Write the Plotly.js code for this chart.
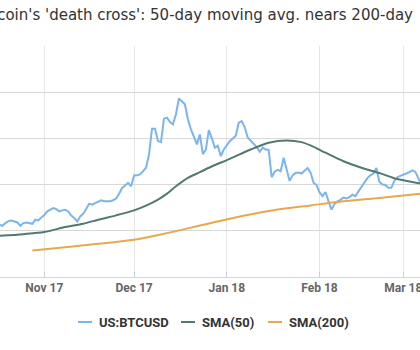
<!DOCTYPE html>
<html>
<head>
<meta charset="utf-8">
<script src="https://cdn.plot.ly/plotly-3.0.1.min.js"></script>
<style>
html,body{margin:0;padding:0;background:#fff;overflow:hidden;}
#chart{width:420px;height:350px;}
</style>
</head>
<body>
<div id="chart"></div>
<script>
// ---- data ----
var btcStart = '2017-10-17';
var btcValues = [
  // Oct 17 - Oct 31
  5650,5540,5830,6050,6120,6010,5900,5540,5830,5900,5820,5760,6200,6120,6450,
  // Nov
  6700,7100,7250,7460,7350,7100,7210,7280,7100,6650,6400,6010,6550,6850,7350,
  7940,7830,8010,8150,8300,8200,8190,8190,8300,8500,9020,9640,9900,10190,9820,
  // Dec
  10980,11000,11100,11450,11820,13260,16050,16050,14710,14600,17140,17250,16780,16520,17610,
  19320,19060,18700,17070,15980,15200,14350,15430,13300,13800,15900,15000,14000,14200,13080,13800,
  // Jan
  14300,14700,15000,15300,16700,16880,16200,15100,14750,14400,14050,13550,14000,13800,13750,
  10800,11400,11600,11450,12900,11600,10400,11000,11250,11300,11200,11500,11800,11300,10200,9950,
  // Feb
  9150,8750,9200,8190,7300,7900,8200,8350,8600,8500,8650,8900,8750,9270,
  9750,10100,10700,11000,11200,11800,10300,10000,9950,9650,9650,10400,10800,10950,
  // Mar 1 - Mar 7
  11050,11200,11350,11550,11400,10600,10000
];

var sma50Dates = ['2017-10-17','2017-10-25','2017-11-01','2017-11-08','2017-11-14','2017-11-19',
  '2017-11-25','2017-12-01','2017-12-05','2017-12-09','2017-12-12','2017-12-15','2017-12-19',
  '2017-12-23','2017-12-26','2018-01-02','2018-01-09','2018-01-15','2018-01-21','2018-01-26',
  '2018-01-29','2018-02-03','2018-02-09','2018-02-15','2018-02-21','2018-02-27','2018-03-07'];
var sma50Values = [4460,4640,4860,5400,5760,6200,6670,7210,7720,8370,9020,9820,10730,
  11340,11820,12790,13800,14530,14780,14600,14240,13450,12530,11820,11250,10600,10100];

var sma200Dates = ['2017-10-28','2017-11-08','2017-11-19','2017-12-01','2017-12-12',
  '2017-12-26','2018-01-07','2018-01-18','2018-01-29','2018-02-09','2018-02-21','2018-03-07'];
var sma200Values = [2860,3230,3590,4020,4750,5800,6650,7300,7750,8190,8550,9020];

var tickDates = ['2017-11-01','2017-12-01','2018-01-01','2018-02-01','2018-03-01'];
var seriesNames = ['US:BTCUSD','SMA(50)','SMA(200)'];
var seriesColors = ['#7cb5ec','#52796f','#e6a94e'];
var titleText = "Bitcoin's 'death cross': 50-day moving avg. nears 200-day";

// build consecutive daily dates for the BTC series
var btcDates = [];
(function(){
  var d = new Date(btcStart + 'T00:00:00Z');
  for (var i = 0; i < btcValues.length; i++) {
    btcDates.push(d.toISOString().slice(0,10));
    d.setUTCDate(d.getUTCDate() + 1);
  }
})();

var traces = [
  {x: btcDates, y: btcValues, name: seriesNames[0], type: 'scatter', mode: 'lines',
   line: {color: seriesColors[0], width: 2}, showlegend: false, hoverinfo: 'skip'},
  {x: sma50Dates, y: sma50Values, name: seriesNames[1], type: 'scatter', mode: 'lines',
   line: {color: seriesColors[1], width: 2, shape: 'spline', smoothing: 0.8}, showlegend: false, hoverinfo: 'skip'},
  {x: sma200Dates, y: sma200Values, name: seriesNames[2], type: 'scatter', mode: 'lines',
   line: {color: seriesColors[2], width: 2, shape: 'spline', smoothing: 0.8}, showlegend: false, hoverinfo: 'skip'}
];

// custom legend (short line symbols like the reference)
var W = 420, plotTop = 46, plotBottom = 277;
var legendY = (plotBottom - 322) / (plotBottom - plotTop);
var legendSym = [78, 181, 268];
var shapes = [], annotations = [];
for (var k = 0; k < 3; k++) {
  shapes.push({type: 'line', xref: 'paper', yref: 'paper',
    x0: legendSym[k] / W, x1: (legendSym[k] + 14) / W, y0: legendY, y1: legendY,
    line: {color: seriesColors[k], width: 2}});
  annotations.push({xref: 'paper', yref: 'paper', x: (legendSym[k] + 19) / W, y: legendY,
    xanchor: 'left', yanchor: 'middle', showarrow: false, text: seriesNames[k],
    font: {family: 'Roboto', size: 13, color: '#333333', weight: 'bold'}});
}

var layout = {
  width: 420, height: 350,
  margin: {l: 0, r: 0, t: plotTop, b: 350 - plotBottom, pad: 0},
  paper_bgcolor: '#ffffff', plot_bgcolor: '#ffffff',
  title: {text: titleText, xref: 'container', yref: 'container', x: 413 / 420, xanchor: 'right',
    y: 1 - 15 / 350, yanchor: 'middle',
    font: {family: 'DejaVu Sans', size: 15, color: '#333333'}},
  xaxis: {type: 'date', range: ['2017-10-17 04:30', '2018-03-06 14:00'],
    tickvals: tickDates, tickformat: '%b %y', ticks: 'inside', ticklen: 5, tickcolor: '#c8cdd6',
    showgrid: true, gridcolor: '#e6e6e6', gridwidth: 1,
    showline: true, linecolor: '#ccd6eb', linewidth: 1, zeroline: false,
    ticklabeloverflow: 'allow', fixedrange: true,
    tickfont: {family: 'Roboto', size: 12, color: '#666666', weight: 'bold'}},
  yaxis: {range: [0, 25000], dtick: 5000, tick0: 0, showticklabels: false, ticks: '',
    showgrid: true, gridcolor: '#d8d8d8', gridwidth: 1, zeroline: false, showline: false, fixedrange: true},
  shapes: shapes,
  annotations: annotations,
  showlegend: false
};

Plotly.newPlot('chart', traces, layout, {displayModeBar: false, staticPlot: true});
</script>
</body>
</html>
